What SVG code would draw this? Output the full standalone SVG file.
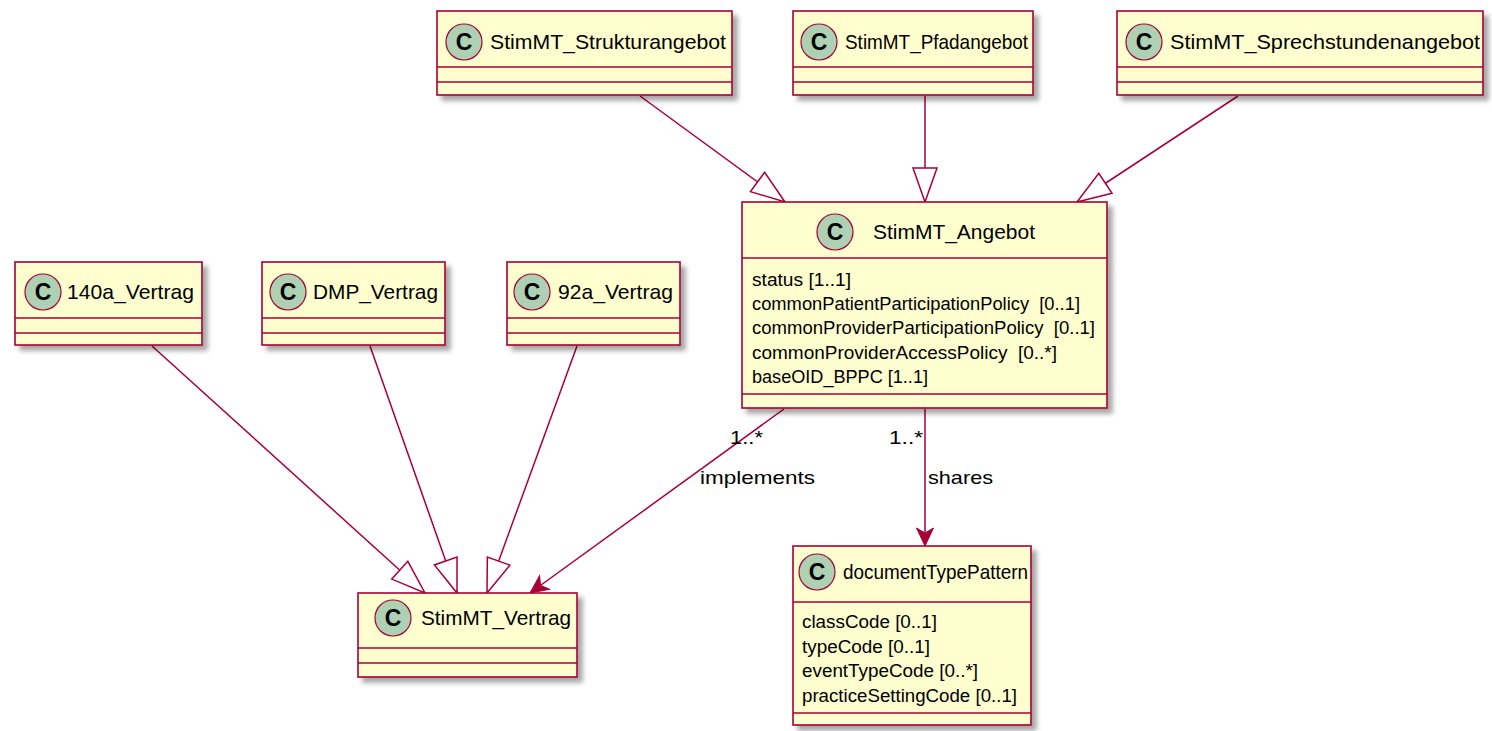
<svg xmlns="http://www.w3.org/2000/svg" width="1492" height="731" viewBox="0 0 1492 731">
  <style>
    .box { fill: #FEFECE; stroke: #A80036; stroke-width: 1.6; }
    .sep { stroke: #A80036; stroke-width: 1.6; }
    .spot { fill: #ADD1B2; stroke: #A80036; stroke-width: 1.2; }
    .spotc { font-family: "Liberation Sans", Arial, sans-serif; font-size: 23px; font-weight: bold; fill: #000; text-anchor: middle; }
    .title { font-family: "Liberation Sans", Arial, sans-serif; font-size: 21px; fill: #000; }
    .attr { font-family: "Liberation Sans", Arial, sans-serif; font-size: 17.5px; fill: #000; white-space: pre; }
    .lbl { font-family: "Liberation Sans", Arial, sans-serif; font-size: 19px; fill: #000; }
    .edge { fill: none; stroke: #A80036; stroke-width: 1.5; }
  </style>
  <defs>
    <filter id="shadow" x="-10%" y="-10%" width="130%" height="140%">
      <feGaussianBlur in="SourceAlpha" stdDeviation="2.5"/>
      <feOffset dx="5" dy="5" result="b"/>
      <feComponentTransfer><feFuncA type="linear" slope="0.35"/></feComponentTransfer>
      <feMerge><feMergeNode/><feMergeNode in="SourceGraphic"/></feMerge>
    </filter>
    <!-- hollow triangle for generalization -->
    <marker id="gen" markerUnits="userSpaceOnUse" markerWidth="40" markerHeight="30" refX="36" refY="14" orient="auto" overflow="visible">
      <path d="M36,14 L2,2 L2,26 Z" fill="#FFFFFF" stroke="#A80036" stroke-width="1.5"/>
    </marker>
    <!-- filled notched arrowhead for associations -->
    <marker id="assoc" markerUnits="userSpaceOnUse" markerWidth="24" markerHeight="20" refX="20" refY="10" orient="auto" overflow="visible">
      <path d="M20,10 L2,1.5 L7,10 L2,18.5 Z" fill="#A80036" stroke="#A80036" stroke-width="1"/>
    </marker>
  </defs>

  <rect width="1492" height="731" fill="#FFFFFF"/>

  <!-- connectors -->
  <g id="connectors">
    <path class="edge" d="M640,96 L785,202" marker-end="url(#gen)"/>
    <path class="edge" d="M925,96 L925,202" marker-end="url(#gen)"/>
    <path class="edge" d="M1238,96 L1077,202" marker-end="url(#gen)"/>
    <path class="edge" d="M152,346 L425,593" marker-end="url(#gen)"/>
    <path class="edge" d="M370,346 L457,593" marker-end="url(#gen)"/>
    <path class="edge" d="M577,346 L487,593" marker-end="url(#gen)"/>
    <path class="edge" d="M784,409 L530,593" marker-end="url(#assoc)"/>
    <path class="edge" d="M925,409 L925,546" marker-end="url(#assoc)"/>
    <text class="lbl" x="730" y="444" textLength="33" lengthAdjust="spacingAndGlyphs">1..*</text>
    <text class="lbl" x="700" y="484" textLength="115" lengthAdjust="spacingAndGlyphs">implements</text>
    <text class="lbl" x="889" y="444" textLength="34" lengthAdjust="spacingAndGlyphs">1..*</text>
    <text class="lbl" x="928" y="484" textLength="65" lengthAdjust="spacingAndGlyphs">shares</text>
  </g>

  <g id="StimMT_Strukturangebot">
    <rect class="box" x="437" y="11" width="295" height="84" filter="url(#shadow)"/>
    <line class="sep" x1="437" y1="67" x2="732" y2="67"/>
    <line class="sep" x1="437" y1="82" x2="732" y2="82"/>
    <circle class="spot" cx="464" cy="42" r="18"/>
    <text class="spotc" x="464" y="50">C</text>
    <text class="title" x="490" y="49" textLength="236" lengthAdjust="spacingAndGlyphs">StimMT_Strukturangebot</text>
  </g>

  <g id="StimMT_Pfadangebot">
    <rect class="box" x="793" y="11" width="240" height="84" filter="url(#shadow)"/>
    <line class="sep" x1="793" y1="67" x2="1033" y2="67"/>
    <line class="sep" x1="793" y1="82" x2="1033" y2="82"/>
    <circle class="spot" cx="819" cy="42" r="18"/>
    <text class="spotc" x="819" y="50">C</text>
    <text class="title" x="845" y="49" textLength="183" lengthAdjust="spacingAndGlyphs">StimMT_Pfadangebot</text>
  </g>

  <g id="StimMT_Sprechstundenangebot">
    <rect class="box" x="1117" y="11" width="366" height="84" filter="url(#shadow)"/>
    <line class="sep" x1="1117" y1="67" x2="1483" y2="67"/>
    <line class="sep" x1="1117" y1="82" x2="1483" y2="82"/>
    <circle class="spot" cx="1144" cy="42" r="18"/>
    <text class="spotc" x="1144" y="50">C</text>
    <text class="title" x="1170" y="49" textLength="310" lengthAdjust="spacingAndGlyphs">StimMT_Sprechstundenangebot</text>
  </g>

  <g id="StimMT_Angebot">
    <rect class="box" x="742" y="202" width="365" height="206" filter="url(#shadow)"/>
    <line class="sep" x1="742" y1="258" x2="1107" y2="258"/>
    <line class="sep" x1="742" y1="394" x2="1107" y2="394"/>
    <circle class="spot" cx="835" cy="232" r="18"/>
    <text class="spotc" x="835" y="240">C</text>
    <text class="title" x="873" y="239" textLength="162" lengthAdjust="spacingAndGlyphs">StimMT_Angebot</text>
    <text class="attr" x="752" y="286" textLength="99" lengthAdjust="spacingAndGlyphs">status [1..1]</text>
    <text class="attr" x="752" y="310" textLength="328" lengthAdjust="spacingAndGlyphs">commonPatientParticipationPolicy  [0..1]</text>
    <text class="attr" x="752" y="334" textLength="343" lengthAdjust="spacingAndGlyphs">commonProviderParticipationPolicy  [0..1]</text>
    <text class="attr" x="752" y="359" textLength="305" lengthAdjust="spacingAndGlyphs">commonProviderAccessPolicy  [0..*]</text>
    <text class="attr" x="752" y="383" textLength="176" lengthAdjust="spacingAndGlyphs">baseOID_BPPC [1..1]</text>
  </g>

  <g id="v140a_Vertrag">
    <rect class="box" x="15" y="262" width="187" height="83" filter="url(#shadow)"/>
    <line class="sep" x1="15" y1="318" x2="202" y2="318"/>
    <line class="sep" x1="15" y1="333" x2="202" y2="333"/>
    <circle class="spot" cx="43" cy="292" r="18"/>
    <text class="spotc" x="43" y="300">C</text>
    <text class="title" x="67" y="299" textLength="127" lengthAdjust="spacingAndGlyphs">140a_Vertrag</text>
  </g>

  <g id="DMP_Vertrag">
    <rect class="box" x="262" y="262" width="183" height="83" filter="url(#shadow)"/>
    <line class="sep" x1="262" y1="318" x2="445" y2="318"/>
    <line class="sep" x1="262" y1="333" x2="445" y2="333"/>
    <circle class="spot" cx="288" cy="292" r="18"/>
    <text class="spotc" x="288" y="300">C</text>
    <text class="title" x="313" y="299" textLength="125" lengthAdjust="spacingAndGlyphs">DMP_Vertrag</text>
  </g>

  <g id="v92a_Vertrag">
    <rect class="box" x="507" y="262" width="173" height="83" filter="url(#shadow)"/>
    <line class="sep" x1="507" y1="318" x2="680" y2="318"/>
    <line class="sep" x1="507" y1="333" x2="680" y2="333"/>
    <circle class="spot" cx="532" cy="292" r="18"/>
    <text class="spotc" x="532" y="300">C</text>
    <text class="title" x="558" y="299" textLength="115" lengthAdjust="spacingAndGlyphs">92a_Vertrag</text>
  </g>

  <g id="StimMT_Vertrag">
    <rect class="box" x="358" y="593" width="219" height="84" filter="url(#shadow)"/>
    <line class="sep" x1="358" y1="648" x2="577" y2="648"/>
    <line class="sep" x1="358" y1="663" x2="577" y2="663"/>
    <circle class="spot" cx="393" cy="618" r="18"/>
    <text class="spotc" x="393" y="626">C</text>
    <text class="title" x="421" y="625" textLength="150" lengthAdjust="spacingAndGlyphs">StimMT_Vertrag</text>
  </g>

  <g id="documentTypePattern">
    <rect class="box" x="793" y="546" width="238" height="179" filter="url(#shadow)"/>
    <line class="sep" x1="793" y1="602" x2="1031" y2="602"/>
    <line class="sep" x1="793" y1="713" x2="1031" y2="713"/>
    <circle class="spot" cx="817" cy="572" r="18"/>
    <text class="spotc" x="817" y="580">C</text>
    <text class="title" x="843" y="579" textLength="185" lengthAdjust="spacingAndGlyphs">documentTypePattern</text>
    <text class="attr" x="802" y="628" textLength="135" lengthAdjust="spacingAndGlyphs">classCode [0..1]</text>
    <text class="attr" x="802" y="653" textLength="128" lengthAdjust="spacingAndGlyphs">typeCode [0..1]</text>
    <text class="attr" x="802" y="677" textLength="176" lengthAdjust="spacingAndGlyphs">eventTypeCode [0..*]</text>
    <text class="attr" x="802" y="702" textLength="215" lengthAdjust="spacingAndGlyphs">practiceSettingCode [0..1]</text>
  </g>
</svg>
